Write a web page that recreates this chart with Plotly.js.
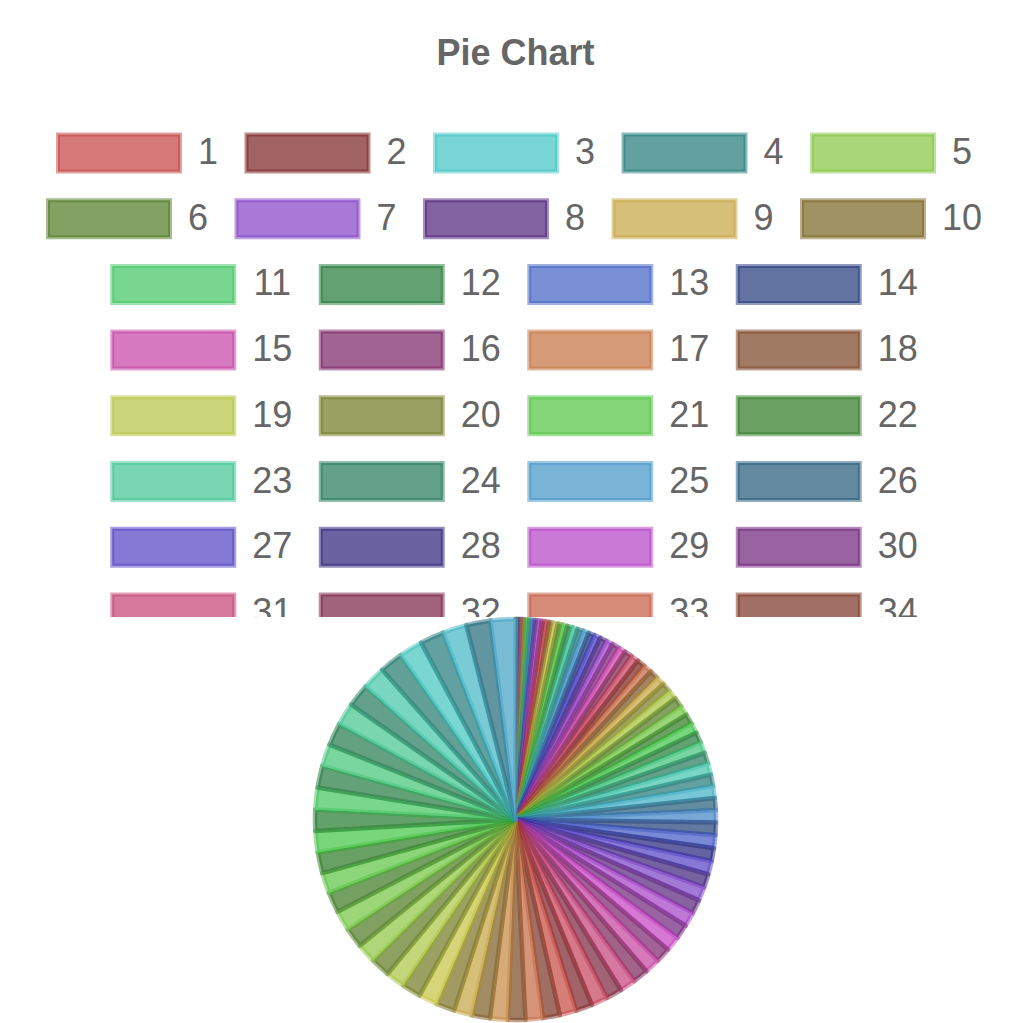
<!DOCTYPE html>
<html>
<head>
<meta charset="utf-8">
<script src="https://cdn.plot.ly/plotly-3.0.1.min.js"></script>
<style>
  html, body { margin: 0; padding: 0; background: #fff; }
  #chart { width: 1024px; height: 1023px; }
</style>
</head>
<body>
<div id="chart"></div>
<script>
// ---------------- data ----------------
const labels = ["1","2","3","4","5","6","7","8","9","10",
  "11","12","13","14","15","16","17","18","19","20",
  "21","22","23","24","25","26","27","28","29","30",
  "31","32","33","34","35","36","37","38","39","40",
  "41","42","43","44","45","46","47","48","49","50",
  "51","52","53","54","55","56","57","58","59","60",
  "61","62","63","64","65","66","67","68","69","70",
  "71","72","73","74","75","76","77","78","79","80",
  "81","82","83","84","85","86","87","88","89","90",
  "91","92","93","94","95","96","97","98","99","100"];
const values = [1,2,3,4,5,6,7,8,9,10,
  11,12,13,14,15,16,17,18,19,20,
  21,22,23,24,25,26,27,28,29,30,
  31,32,33,34,35,36,37,38,39,40,
  41,42,43,44,45,46,47,48,49,50,
  51,52,53,54,55,56,57,58,59,60,
  61,62,63,64,65,66,67,68,69,70,
  71,72,73,74,75,76,77,78,79,80,
  81,82,83,84,85,86,87,88,89,90,
  91,92,93,94,95,96,97,98,99,100];
const chartTitle = "Pie Chart";

// ---------------- styles ----------------
function hsl2rgb(h, s, l) {
  h = ((h % 360) + 360) % 360;
  const c = (1 - Math.abs(2 * l - 1)) * s;
  const x = c * (1 - Math.abs((h / 60) % 2 - 1));
  const m = l - c / 2;
  let r = 0, g = 0, b = 0;
  if (h < 60) { r = c; g = x; }
  else if (h < 120) { r = x; g = c; }
  else if (h < 180) { g = c; b = x; }
  else if (h < 240) { g = x; b = c; }
  else if (h < 300) { r = x; b = c; }
  else { r = c; b = x; }
  return [(r + m) * 255, (g + m) * 255, (b + m) * 255];
}
function baseColor(h, light) {
  return light ? hsl2rgb(h, 0.53, 0.51) : hsl2rgb(h, 0.58, 0.30);
}
function fillOf(rgb) {
  const a = 0.7;
  return 'rgb(' + rgb.map(v => Math.round(v * a + 255 * (1 - a))).join(',') + ')';
}
function borderOf(rgb) {
  return 'rgba(' + rgb.map(v => Math.round(v)).join(',') + ',0.5)';
}
// hue order used by the legend swatches: 0, 1/2, 1/4, 3/4, 1/8, 3/8, 5/8, 7/8, 1/16 ...
function hueFrac(p) {
  if (p === 0) return 0;
  const L = Math.floor(Math.log2(p));
  const j = p - Math.pow(2, L);
  return (2 * j + 1) / Math.pow(2, L + 1);
}

// legend swatch colours (by label order)
const legendFill = [], legendLine = [];
labels.forEach((l, i) => {
  const rgb = baseColor(360 * hueFrac(Math.floor(i / 2)), i % 2 === 0);
  legendFill.push(fillOf(rgb)); legendLine.push(borderOf(rgb));
});
// pie slice colours (as seen around the pie)
const sliceFill = [], sliceLine = [];
values.forEach((v, i) => {
  const k = i + 1;
  const rgb = baseColor(500 * Math.log(k) - 1386, k % 2 === 0);
  sliceFill.push(fillOf(rgb)); sliceLine.push(borderOf(rgb));
});

// ---------------- legend layout (px) ----------------
const W = 1024, H = 1023;
const legendBottom = 617;
const boxW = 126, boxH = 41, lw = 4, textGap = 17, itemGap = 25.5;
const digitW = 20, rowY0 = 153, rowPitch = 65.7;
const items = labels.map((l, i) => ({ i, l, w: boxW + textGap + digitW * l.length }));
const rows = []; let cur = [], curW = 0;
items.forEach(it => {
  if (cur.length && curW + it.w + itemGap > W) { rows.push(cur); cur = []; curW = 0; }
  cur.push(it); curW += it.w + itemGap;
});
if (cur.length) rows.push(cur);

const shapes = [], tx = [], ty = [], tt = [];
rows.forEach((row, r) => {
  const cy = rowY0 + r * rowPitch;
  if (cy - boxH / 2 > legendBottom) return;
  const rowW = row.reduce((s, it) => s + it.w + itemGap, 0) - itemGap;
  let x = (W + 5 - rowW) / 2;
  row.forEach(it => {
    shapes.push({
      type: 'rect', xref: 'x', yref: 'y', layer: 'above',
      x0: x + lw / 2, x1: x + boxW - lw / 2,
      y0: cy - boxH / 2 + lw / 2, y1: cy + boxH / 2 - lw / 2,
      fillcolor: legendFill[it.i], line: { color: legendLine[it.i], width: lw }
    });
    tx.push(x + boxW + textGap + digitW * it.l.length / 2 - 1);
    ty.push(cy + 2);
    tt.push(it.l);
    x += it.w + itemGap;
  });
});

const legendText = {
  type: 'scatter', mode: 'text', x: tx, y: ty, text: tt,
  textposition: 'middle center', cliponaxis: true,
  textfont: { family: 'Liberation Sans, Arial, sans-serif', size: 36, color: '#666666' },
  hoverinfo: 'skip', showlegend: false, xaxis: 'x', yaxis: 'y'
};

const pieTop = 619, pieBottom = 1020, pieCx = 515.5;
const pie = {
  type: 'pie', labels: labels, values: values,
  sort: false, direction: 'clockwise', rotation: 0,
  textinfo: 'none', hoverinfo: 'label+value', showlegend: false,
  marker: { colors: sliceFill, line: { color: sliceLine, width: 4.5 } },
  domain: {
    x: [(pieCx - 205) / W, (pieCx + 205) / W],
    y: [(H - pieBottom) / H, (H - pieTop) / H]
  }
};

const layout = {
  width: W, height: H,
  margin: { l: 0, r: 0, t: 0, b: 0, pad: 0 },
  paper_bgcolor: '#ffffff', plot_bgcolor: 'rgba(0,0,0,0)',
  showlegend: false,
  title: {
    text: chartTitle, x: 515.5 / W, xanchor: 'center', xref: 'paper',
    y: 1 - 52 / H, yanchor: 'middle', yref: 'container',
    font: { family: 'Liberation Sans, Arial, sans-serif', size: 36, color: '#666666', weight: 'bold' }
  },
  xaxis: { domain: [0, 1], range: [0, W], visible: false, fixedrange: true },
  yaxis: { domain: [(H - legendBottom) / H, 1], range: [legendBottom, 0], visible: false, fixedrange: true },
  shapes: shapes
};

Plotly.newPlot('chart', [pie, legendText], layout, { staticPlot: true, displayModeBar: false });
</script>
</body>
</html>
